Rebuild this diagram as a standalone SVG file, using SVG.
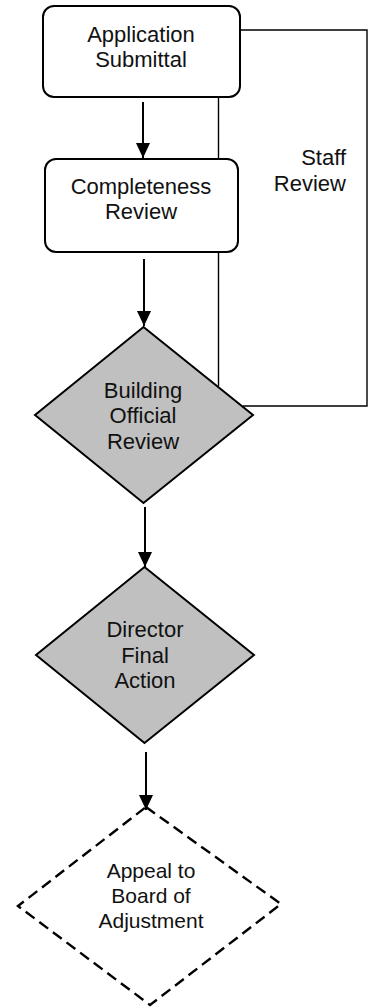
<svg xmlns="http://www.w3.org/2000/svg" width="371" height="1008" viewBox="0 0 371 1008">
  <style>
    .box { fill: #ffffff; stroke: #000000; stroke-width: 2; }
    .decision { fill: #c0c0c0; stroke: #000000; stroke-width: 2; }
    .optional { fill: none; stroke: #000000; stroke-width: 2.4; stroke-dasharray: 11 6; }
    .flow { fill: none; stroke: #000000; stroke-width: 2; }
    .loop { fill: none; stroke: #000000; stroke-width: 1.4; }
    text { font-family: "Liberation Sans", Arial, sans-serif; font-size: 22px; fill: #111111; text-anchor: middle; }
    .note { text-anchor: end; }
  </style>
  <defs>
    <marker id="arrow" markerUnits="userSpaceOnUse" markerWidth="16" markerHeight="16" refX="15" refY="7" orient="auto">
      <path d="M0,0 L15,7 L0,14 Z" fill="#000000"/>
    </marker>
  </defs>

  <!-- staff review loop and main flow -->
  <g id="connectors">
    <polyline class="loop" points="240,30 367,30 367,406 243,406"/>
    <line class="loop" x1="218.5" y1="97" x2="218.5" y2="386"/>
    <line class="flow" x1="143" y1="102" x2="143" y2="158" marker-end="url(#arrow)"/>
    <line class="flow" x1="144" y1="259" x2="144" y2="326" marker-end="url(#arrow)"/>
    <line class="flow" x1="145" y1="507" x2="145" y2="567" marker-end="url(#arrow)"/>
    <line class="flow" x1="146" y1="752" x2="146" y2="810" marker-end="url(#arrow)"/>
  </g>

  <g id="application-submittal">
    <rect class="box" x="43" y="6" width="197" height="91" rx="11" ry="11"/>
    <text x="141" y="42">Application</text>
    <text x="141" y="67">Submittal</text>
  </g>

  <g id="completeness-review">
    <rect class="box" x="45" y="159" width="193" height="93" rx="11" ry="11"/>
    <text x="141" y="194">Completeness</text>
    <text x="141" y="219">Review</text>
  </g>

  <g id="staff-review-label">
    <text class="note" x="346" y="165">Staff</text>
    <text class="note" x="346" y="191">Review</text>
  </g>

  <g id="building-official-review">
    <polygon class="decision" points="143.5,327 253,415 143.5,503 35,415"/>
    <text x="143" y="398">Building</text>
    <text x="143" y="423">Official</text>
    <text x="143" y="449">Review</text>
  </g>

  <g id="director-final-action">
    <polygon class="decision" points="144.5,567 254,655 144.5,743 36,655"/>
    <text x="145" y="637">Director</text>
    <text x="145" y="663">Final</text>
    <text x="145" y="688">Action</text>
  </g>

  <g id="appeal-board-of-adjustment">
    <polygon class="optional" points="146,807 281,904 150,1005 18,906"/>
    <text x="151" y="878" style="font-size:21px">Appeal to</text>
    <text x="151" y="903" style="font-size:21px">Board of</text>
    <text x="151" y="928" style="font-size:21px">Adjustment</text>
  </g>
</svg>
